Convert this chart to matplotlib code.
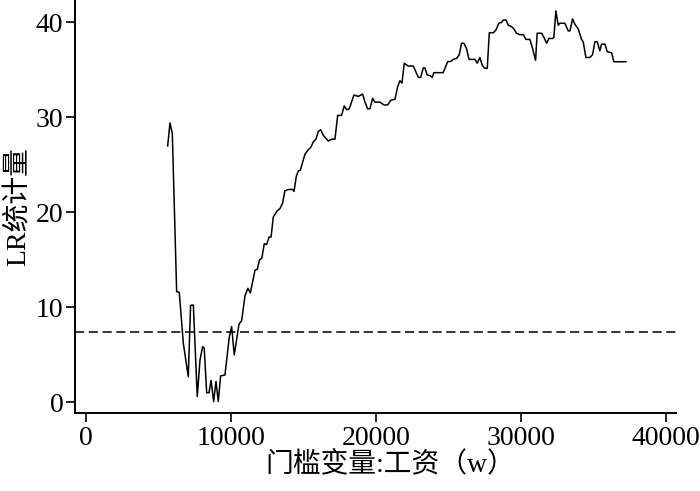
import matplotlib
matplotlib.use("Agg")
import matplotlib.pyplot as plt

plt.rcParams['font.family'] = ['Liberation Serif', 'Noto Sans CJK SC', 'DejaVu Sans']

# Threshold variable (wage) values and LR statistics
wage = [5650, 5810, 5970, 6270, 6450, 6730, 7070, 7230, 7420, 7690, 7880, 8060, 8170,
        8340, 8500, 8640, 8820, 8980, 9140, 9300, 9600, 9900, 10060, 10240, 10570,
        10750, 10980, 11180, 11350, 11670, 11830, 11980, 12140, 12310, 12470, 12640,
        12780, 12930, 13180, 13390, 13570, 13730, 13960, 14270, 14360, 14520, 14660,
        14800, 14960, 15110, 15340, 15500, 15690, 15870, 16030, 16200, 16380, 16720,
        16950, 17180, 17370, 17640, 17820, 17990, 18170, 18490, 18790, 19090, 19250,
        19430, 19590, 19780, 19940, 20280, 20560, 20810, 21040, 21320, 21500, 21660,
        21800, 21960, 22230, 22580, 22930, 23090, 23270, 23380, 23540, 23730, 23890,
        24000, 24640, 24950, 25180, 25330, 25570, 25750, 25910, 26070, 26260, 26420,
        26830, 26990, 27170, 27330, 27470, 27680, 27820, 28100, 28280, 28480, 28670,
        28780, 28970, 29130, 29290, 29470, 29700, 29930, 30160, 30350, 30620, 30810,
        31010, 31120, 31430, 31590, 31770, 31930, 32180, 32270, 32410, 32570, 32690,
        33030, 33260, 33380, 33560, 33720, 33950, 34180, 34290, 34480, 34760, 34940,
        35100, 35260, 35440, 35560, 35790, 35950, 36250, 36410, 37240]
lr_stat = [26.98, 29.4, 28.3, 11.64, 11.58, 6.2, 2.7, 10.2, 10.24, 0.6, 4.45, 5.86, 5.7,
           1.0, 1.0, 2.3, 0.07, 2.2, 0.07, 2.77, 2.87, 6.9, 7.96, 4.98, 8.24,
           8.6, 11.2, 12.0, 11.5, 13.9, 14.0, 15.0, 15.15, 16.7, 16.6, 17.4,
           17.4, 19.5, 20.1, 20.4, 20.95, 22.25, 22.4, 22.4, 22.2, 23.8, 24.35,
           24.45, 25.3, 26.1, 26.6, 26.8, 27.4, 27.7, 28.5, 28.7, 28.1, 27.5,
           27.7, 27.7, 30.2, 30.2, 31.2, 30.8, 30.9, 32.35, 32.2, 32.45, 31.6,
           30.9, 30.9, 32.0, 31.6, 31.6, 31.3, 31.3, 31.8, 31.9, 33.2, 33.85,
           33.6, 35.7, 35.4, 35.4, 34.2, 34.2, 35.2, 35.2, 34.45, 34.4, 34.2,
           34.7, 34.7, 35.85, 35.9, 36.1, 36.2, 36.6, 37.8, 37.8, 37.2, 36.1,
           36.1, 35.7, 36.3, 35.5, 35.2, 35.15, 38.9, 38.9, 39.2, 39.9, 40.0,
           40.24, 40.24, 39.7, 39.6, 39.4, 38.85, 38.7, 38.7, 38.2, 38.2, 37.2,
           36.0, 38.85, 38.85, 38.4, 37.8, 38.3, 38.3, 38.4, 41.2, 39.7, 39.9,
           39.9, 39.1, 39.1, 40.35, 39.8, 39.3, 38.2, 37.96, 36.3, 36.3, 36.6,
           37.96, 37.96, 37.0, 37.7, 37.7, 36.9, 36.8, 35.85, 35.85]
critical_value = 7.35

x_ticks = [0, 10000, 20000, 30000, 40000]
y_ticks = [0, 10, 20, 30, 40]
x_label = "门槛变量:工资（w）"
y_label = "LR统计量"

fig = plt.figure(figsize=(7.0, 4.91), dpi=100)
ax = fig.add_axes([75/700, (491-412.7)/491, (676-75)/700, 412.7/491])

ax.plot(wage, lr_stat, color='black', linewidth=1.1)
ax.axhline(critical_value, color='black', linewidth=1.1, linestyle=(0, (6, 3)))

ax.set_xlim(-737, 40690)
ax.set_ylim(-1.1, 42.35)
ax.set_xticks(x_ticks)
ax.set_yticks(y_ticks)
ax.set_xticklabels([str(v) for v in x_ticks])
ax.set_yticklabels([str(v) for v in y_ticks])

for side in ['top', 'right']:
    ax.spines[side].set_visible(False)
for side in ['left', 'bottom']:
    ax.spines[side].set_linewidth(1.4)

ax.tick_params(direction='out', length=6.3, width=1.2, labelsize=20, pad=2, colors='black')
ax.tick_params(axis='x', pad=3)

ax.set_xlabel(x_label, fontsize=20, labelpad=1, x=0.524)
ax.set_ylabel(y_label, fontsize=20, labelpad=4)

fig.savefig("out.png", dpi=100)
